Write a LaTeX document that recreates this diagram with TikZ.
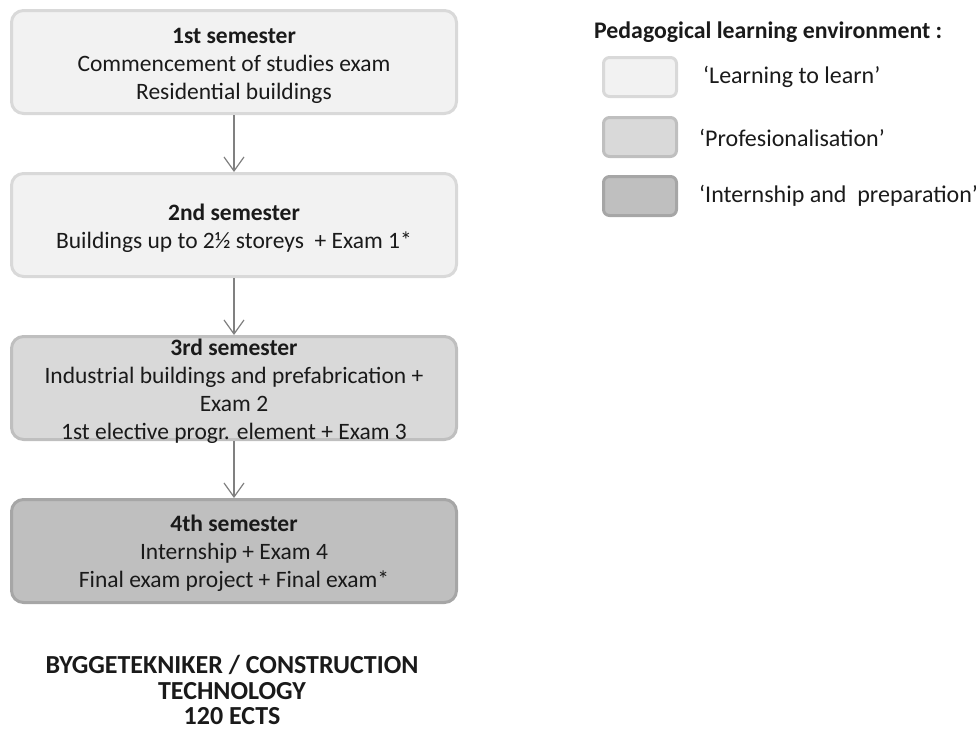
\documentclass[tikz,border=0pt]{standalone}
\usepackage{fontspec}
\setmainfont{Carlito}
\usetikzlibrary{arrows.meta}
\definecolor{txt}{HTML}{1A1A1A}
\definecolor{fillA}{HTML}{F2F2F2}
\definecolor{drawA}{HTML}{D9D9D9}
\definecolor{fillB}{HTML}{D9D9D9}
\definecolor{drawB}{HTML}{BFBFBF}
\definecolor{fillC}{HTML}{BFBFBF}
\definecolor{drawC}{HTML}{A6A6A6}
\definecolor{arr}{HTML}{808080}
\begin{document}
\begin{tikzpicture}[x=1pt,y=-1pt,
  sembox/.style={rounded corners=12pt, line width=3pt, minimum width=445pt, minimum height=103pt, inner sep=0pt},
  semtxt/.style={align=center, text=txt, font=\fontsize{23.5}{28}\selectfont, inner sep=0pt},
  lvl1/.style={sembox, fill=fillA, draw=drawA},
  lvl2/.style={sembox, fill=fillB, draw=drawB},
  lvl3/.style={sembox, fill=fillC, draw=drawC},
  legbox/.style={rounded corners=6pt, line width=3pt, minimum width=73pt, minimum height=39pt, inner sep=0pt},
  legtxt/.style={anchor=west, text=txt, font=\fontsize{24}{28}\selectfont, inner sep=0pt},
  flow/.style={draw=arr, line width=1.2pt, -{Straight Barb[length=14pt, width=20pt, line width=1.2pt]}}
]
\useasboundingbox (0,0) rectangle (976,737);
\node[lvl1] (s1) at (234,62) {};
\node[lvl1] (s2) at (234,225) {};
\node[lvl2] (s3) at (234,388) {};
\node[lvl3] (s4) at (234,551) {};
\node[semtxt] (s1t) at (234,66) {\textbf{1st semester}\\Commencement of studies exam\\Residential buildings};
\node[semtxt] (s2t) at (234,228) {\textbf{2nd semester}\\Buildings up to 2½ storeys\ \ + Exam 1*};
\node[semtxt] (s3t) at (234,391) {\textbf{3rd semester}\\Industrial buildings and prefabrication +\\Exam 2\\1st elective progr. element + Exam 3};
\node[semtxt] (s4t) at (234,553.5) {\textbf{4th semester}\\Internship + Exam 4\\Final exam project + Final exam*};
\draw[flow] (s1) -- (s2);
\draw[flow] (s2) -- (s3);
\draw[flow] (s3) -- (s4);
\node[align=center, text=txt, font=\bfseries\fontsize{26}{25.5}\selectfont, inner sep=0pt] (title) at (232,690) {BYGGETEKNIKER / CONSTRUCTION\\TECHNOLOGY\\120 ECTS};
\node[anchor=west, text=txt, font=\bfseries\fontsize{23.8}{28}\selectfont, inner sep=0pt] (lt) at (594,32) {Pedagogical learning environment :};
\node[legbox, fill=fillA, draw=drawA] (l1) at (640,77) {};
\node[legbox, fill=fillB, draw=drawB] (l2) at (640,137) {};
\node[legbox, fill=fillC, draw=drawC] (l3) at (640,196) {};
\node[legtxt] (t1) at (703,77) {‘Learning to learn’};
\node[legtxt] (t2) at (699,138) {‘Profesionalisation’};
\node[legtxt] (t3) at (699,196) {‘Internship and\ \ preparation’};
\end{tikzpicture}
\end{document}
